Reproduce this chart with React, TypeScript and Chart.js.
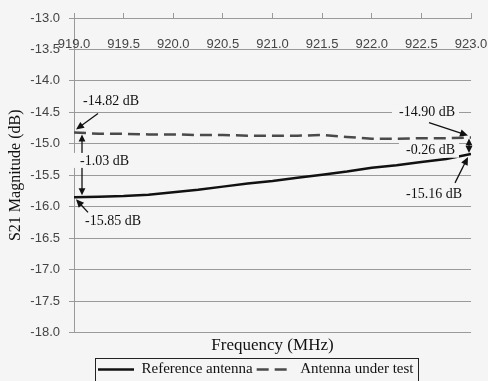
import React, { useEffect, useRef } from 'react';
import { Chart, registerables } from 'chart.js';

Chart.register(...registerables);

// ---- data ----
const frequencies = [919.0, 919.25, 919.5, 919.75, 920.0, 920.25, 920.5, 920.75, 921.0, 921.25, 921.5, 921.75, 922.0, 922.25, 922.5, 922.75, 923.0];
const referenceAntenna = [-15.85, -15.84, -15.83, -15.81, -15.77, -15.73, -15.68, -15.63, -15.59, -15.54, -15.49, -15.44, -15.38, -15.34, -15.29, -15.24, -15.16];
const antennaUnderTest = [-14.82, -14.84, -14.84, -14.85, -14.85, -14.86, -14.86, -14.87, -14.87, -14.87, -14.86, -14.89, -14.92, -14.92, -14.91, -14.91, -14.90];
const xTickValues = [919.0, 919.5, 920.0, 920.5, 921.0, 921.5, 922.0, 922.5, 923.0];
const seriesNames = ['Reference antenna', 'Antenna under test'];
const xTitle = 'Frequency (MHz)';
const yTitle = 'S21 Magnitude (dB)';
const yMin = -18;
const yMax = -13;
const yStep = 0.5;

// ---- style ----
const BG = '#f5f5f5';
const GRID = '#9a9a9a';
const SERIF = '"Liberation Serif", "Times New Roman", serif';
const SANS = '"Liberation Sans", Arial, sans-serif';
const TICK_COLOR = '#444';
const INK = '#111';
const LEGEND_START_X = 98;
const LEGEND_DY = 2;

const fmtDb = (v: number) => v.toFixed(2) + ' dB';

function head(ctx: CanvasRenderingContext2D, x1: number, y1: number, x2: number, y2: number, len = 8, half = 3.6) {
  const a = Math.atan2(y2 - y1, x2 - x1);
  ctx.beginPath();
  ctx.moveTo(x2, y2);
  ctx.lineTo(x2 - len * Math.cos(a) + half * Math.sin(a), y2 - len * Math.sin(a) - half * Math.cos(a));
  ctx.lineTo(x2 - len * Math.cos(a) - half * Math.sin(a), y2 - len * Math.sin(a) + half * Math.cos(a));
  ctx.closePath();
  ctx.fill();
}

function arrow(ctx: CanvasRenderingContext2D, x1: number, y1: number, x2: number, y2: number) {
  const a = Math.atan2(y2 - y1, x2 - x1);
  ctx.beginPath();
  ctx.moveTo(x1, y1);
  ctx.lineTo(x2 - 6 * Math.cos(a), y2 - 6 * Math.sin(a));
  ctx.stroke();
  head(ctx, x1, y1, x2, y2);
}

function doubleArrow(ctx: CanvasRenderingContext2D, x: number, y1: number, y2: number) {
  ctx.beginPath();
  ctx.moveTo(x, y1 + 5);
  ctx.lineTo(x, y2 - 5);
  ctx.stroke();
  head(ctx, x, y2, x, y1, 7, 3.4);
  head(ctx, x, y1, x, y2, 7, 3.4);
}

function label(ctx: CanvasRenderingContext2D, text: string, x: number, y: number, bg: boolean) {
  ctx.font = `14px ${SERIF}`;
  ctx.textAlign = 'left';
  ctx.textBaseline = 'middle';
  const w = ctx.measureText(text).width;
  if (bg) {
    ctx.fillStyle = BG;
    ctx.fillRect(x - 7, y - 8, w + 11, 15);
  }
  ctx.fillStyle = INK;
  ctx.fillText(text, x, y);
}

const annotationPlugin = {
  id: 'annotations',
  afterDatasetsDraw(chart: any) {
    const { ctx } = chart;
    const xs = chart.scales.x;
    const ys = chart.scales.y;
    const n = frequencies.length - 1;
    const xL = xs.getPixelForValue(frequencies[0]);
    const xR = xs.getPixelForValue(frequencies[n]);
    const tL = ys.getPixelForValue(antennaUnderTest[0]);
    const rL = ys.getPixelForValue(referenceAntenna[0]);
    const tR = ys.getPixelForValue(antennaUnderTest[n]);
    const rR = ys.getPixelForValue(referenceAntenna[n]);
    ctx.save();
    ctx.strokeStyle = INK;
    ctx.fillStyle = INK;
    ctx.lineWidth = 1.3;
    // left side
    arrow(ctx, xL + 24, tL - 19, xL + 2, tL - 3);
    arrow(ctx, xL + 14, rL + 15, xL + 2, rL + 2);
    doubleArrow(ctx, xL + 8, tL + 2, rL - 2);
    label(ctx, fmtDb(antennaUnderTest[0]), xL + 9, tL - 31, false);
    label(ctx, fmtDb(referenceAntenna[0] - antennaUnderTest[0]), xL + 6, (tL + rL) / 2 - 4, true);
    label(ctx, fmtDb(referenceAntenna[0]), xL + 11, rL + 24, false);
    // right side
    ctx.strokeStyle = INK;
    ctx.fillStyle = INK;
    arrow(ctx, xR - 42, tR - 15, xR - 3, tR - 2);
    arrow(ctx, xR - 16, rR + 29, xR - 3, rR + 3);
    doubleArrow(ctx, xR - 2, tR + 1, rR - 1);
    label(ctx, fmtDb(antennaUnderTest[n]), xR - 72, tR - 25, true);
    label(ctx, fmtDb(referenceAntenna[n] - antennaUnderTest[n]), xR - 65, (tR + rR) / 2 + 5, true);
    label(ctx, fmtDb(referenceAntenna[n]), xR - 65, rR + 40, false);
    ctx.restore();
  },
  afterLayout(chart: any) {
    const lg = chart.legend;
    if (!lg || !lg.lineWidths) return;
    const p = lg.options.labels.padding;
    const start = (lg.left + p + lg.right - lg.lineWidths[0]) / 2;
    const dx = LEGEND_START_X - start;
    lg.left += dx;
    lg.right += dx;
    lg.top += LEGEND_DY;
    lg.bottom += LEGEND_DY;
  },
  afterDraw(chart: any) {
    const { ctx, chartArea } = chart;
    const xs = chart.scales.x;
    ctx.save();
    // x tick labels inside the plot, under the top axis
    ctx.font = `13px ${SANS}`;
    ctx.fillStyle = TICK_COLOR;
    ctx.textAlign = 'center';
    ctx.textBaseline = 'middle';
    xTickValues.forEach((v) => {
      ctx.fillText(v.toFixed(1), xs.getPixelForValue(v), chartArea.top + 26);
    });
    // legend frame
    const lg = chart.legend;
    if (lg && lg.legendHitBoxes && lg.legendHitBoxes.length) {
      const hb = lg.legendHitBoxes;
      const first = hb[0];
      const last = hb[hb.length - 1];
      const l = Math.round(first.left - 3) + 0.5;
      const r = Math.round(last.left + last.width + 5) + 0.5;
      const t = Math.round(first.top - 4) + 0.5;
      const b = Math.round(first.top + first.height + 6) + 0.5;
      ctx.strokeStyle = '#222';
      ctx.lineWidth = 1;
      ctx.strokeRect(l, t, r - l, b - t);
    }
    ctx.restore();
  },
};

export default function App() {
  const ref = useRef<HTMLCanvasElement | null>(null);
  useEffect(() => {
    if (!ref.current) return;
    const chart = new Chart(ref.current, {
      type: 'line',
      data: {
        datasets: [
          {
            label: seriesNames[0],
            data: frequencies.map((f, i) => ({ x: f, y: referenceAntenna[i] })),
            borderColor: '#111',
            backgroundColor: '#111',
            borderWidth: 2.5,
            pointRadius: 0,
            tension: 0,
            xAxisID: 'x',
            yAxisID: 'y',
          },
          {
            label: seriesNames[1],
            data: frequencies.map((f, i) => ({ x: f, y: antennaUnderTest[i] })),
            borderColor: '#4a4a4a',
            backgroundColor: '#4a4a4a',
            borderWidth: 2.5,
            borderDash: [12, 6],
            pointRadius: 0,
            tension: 0,
            xAxisID: 'x',
            yAxisID: 'y',
          },
        ],
      },
      options: {
        responsive: false,
        animation: false,
        events: [],
        layout: { padding: { left: 0, right: 17, top: 13, bottom: -4 } },
        plugins: {
          tooltip: { enabled: false },
          legend: {
            display: true,
            position: 'bottom',
            labels: {
              usePointStyle: true,
              pointStyle: 'line',
              pointStyleWidth: 36,
              padding: 4,
              color: INK,
              font: { family: SERIF, size: 15 },
              generateLabels: (chart: any) => {
                const items = (Chart as any).defaults.plugins.legend.labels.generateLabels(chart);
                items.forEach((it: any, i: number) => {
                  const ds = chart.data.datasets[i];
                  it.lineDash = ds.borderDash || [];
                  it.lineWidth = ds.borderWidth;
                  it.strokeStyle = ds.borderColor;
                  it.pointStyle = 'line';
                });
                return items;
              },
            },
          },
        },
        scales: {
          x: {
            type: 'linear',
            position: 'top',
            min: 919,
            max: 923,
            ticks: { display: false, stepSize: 0.5 },
            grid: { display: true, drawOnChartArea: false, drawTicks: true, tickLength: 5, color: GRID },
            border: { display: true, color: GRID },
          },
          x2: {
            type: 'linear',
            position: 'bottom',
            min: 919,
            max: 923,
            ticks: { display: false },
            grid: { display: false, drawTicks: false },
            border: { display: false },
            title: {
              display: true,
              text: xTitle,
              color: INK,
              font: { family: SERIF, size: 17 },
              padding: { top: 3, bottom: 0 },
            },
          },
          y: {
            type: 'linear',
            position: 'left',
            min: yMin,
            max: yMax,
            afterFit: (s: any) => {
              s.width = 74;
            },
            ticks: {
              stepSize: yStep,
              padding: 9,
              color: TICK_COLOR,
              font: { family: SANS, size: 13 },
              callback: (v: any) => Number(v).toFixed(1),
            },
            grid: { color: GRID, tickLength: 5, lineWidth: 1 },
            border: { display: true, color: GRID },
            title: {
              display: true,
              text: yTitle,
              color: INK,
              font: { family: SERIF, size: 16 },
              padding: { top: 6, bottom: 0 },
            },
          },
        },
      },
      plugins: [annotationPlugin],
    } as any);
    return () => chart.destroy();
  }, []);
  return (
    <div style={{ position: 'fixed', left: 0, top: 0, width: 488, height: 381, background: BG, overflow: 'hidden' }}>
      <canvas ref={ref} width={488} height={381} style={{ display: 'block' }} />
    </div>
  );
}
